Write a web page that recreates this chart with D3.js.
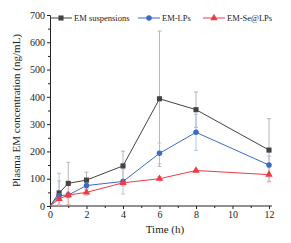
<!DOCTYPE html>
<html lang='en'>
<head>
<meta charset='UTF-8'>
<title>Plasma EM concentration</title>
<style>
  body { margin: 0; background: #fff; }
  text { font-family: 'Liberation Serif', 'Times New Roman', serif; fill: #222; }
</style>
</head>
<body>
<div id="chart-area"></div>
<script src='https://d3js.org/d3.v7.min.js'></script>
<script>
    const times = [0, 0.5, 1, 2, 4, 6, 8, 12];
    const suspMean = [0, 48, 83, 95, 147, 393, 353, 205];
    const suspErr  = [0, 44, 77, 29, 54, 248, 65, 115];
    const lpsMean  = [0, 38, 40, 75, 90, 193, 270, 150];
    const lpsErr   = [0, 82, 10, 12, 46, 38, 66, 33];
    const seMean   = [0, 26, 40, 50, 85, 100, 130, 115];
    const seErr    = [0, 20, 35, 10, 12, 8, 6, 27];
    const seriesNames = ['EM suspensions', 'EM-LPs', 'EM-Se@LPs'];
    const xTicks = [0, 2, 4, 6, 8, 10, 12];
    const yTicks = [0, 100, 200, 300, 400, 500, 600, 700];

    const outerWidth = 291, outerHeight = 243;
    const margin = {top: 15, right: 19, bottom: 37, left: 50};
    const width = outerWidth - margin.left - margin.right;
    const height = outerHeight - margin.top - margin.bottom;

    const series = [
        {name: seriesNames[0], mean: suspMean, err: suspErr, color: '#434343', errColor: '#b0b0b0', shape: d3.symbolSquare, size: 26},
        {name: seriesNames[1], mean: lpsMean, err: lpsErr, color: '#3b6cc3', errColor: '#a9c0e8', shape: d3.symbolCircle, size: 24},
        {name: seriesNames[2], mean: seMean, err: seErr, color: '#ee3b45', errColor: '#f6b0b4', shape: d3.symbolTriangle, size: 24}
    ];

    const svg = d3.select('#chart-area').append('svg')
        .attr('width', outerWidth)
        .attr('height', outerHeight)
        .append('g')
        .attr('transform', `translate(${margin.left}, ${margin.top})`);

    const xScale = d3.scaleLinear().domain([0, 12]).range([0, 219]);
    const yScale = d3.scaleLinear().domain([0, 700]).range([height, 0]);

    // axes
    const gx = svg.append('g').attr('transform', `translate(0, ${height})`)
        .call(d3.axisBottom(xScale).tickValues(xTicks).tickSize(3).tickPadding(2).tickFormat(d3.format('d')));
    gx.append('g').call(d3.axisBottom(xScale).tickValues([1, 3, 5, 7, 9, 11]).tickSize(2).tickFormat(''));
    gx.select('.domain').attr('d', `M0,0H${width}`);

    const gy = svg.append('g')
        .call(d3.axisLeft(yScale).tickValues(yTicks).tickSize(3).tickPadding(2));
    gy.append('g').call(d3.axisLeft(yScale).tickValues(d3.range(50, 700, 100)).tickSize(2).tickFormat(''));

    svg.selectAll('.domain').attr('stroke', '#222');
    svg.selectAll('.tick line').attr('stroke', '#222');
    svg.selectAll('.tick text').style('font-size', '10px').attr('fill', '#222');
    svg.selectAll('.domain').filter(function () { return this.parentNode.parentNode !== svg.node(); }).remove();

    svg.append('text')
        .attr('x', xScale(6.3))
        .attr('y', height + 27)
        .attr('text-anchor', 'middle')
        .style('font-size', '11px')
        .text('Time (h)');

    svg.append('text')
        .attr('transform', 'rotate(-90)')
        .attr('x', -height / 2)
        .attr('y', -30)
        .attr('text-anchor', 'middle')
        .style('font-size', '11px')
        .text('Plasma EM concentration (ng/mL)');

    const line = d3.line().x(d => xScale(d[0])).y(d => yScale(d[1]));

    series.forEach(s => {
        const pts = times.map((t, i) => [t, s.mean[i], s.err[i]]);
        const eb = svg.append('g').attr('stroke', s.errColor).attr('stroke-width', 0.9);
        pts.filter(p => p[2] > 0).forEach(p => {
            const x = xScale(p[0]);
            const lo = yScale(Math.max(0, p[1] - p[2]));
            const hi = yScale(p[1] + p[2]);
            eb.append('line').attr('x1', x).attr('x2', x).attr('y1', lo).attr('y2', hi);
            eb.append('line').attr('x1', x - 2).attr('x2', x + 2).attr('y1', hi).attr('y2', hi);
            if (p[1] - p[2] > 0) eb.append('line').attr('x1', x - 2).attr('x2', x + 2).attr('y1', lo).attr('y2', lo);
        });
    });

    series.forEach(s => {
        const pts = times.map((t, i) => [t, s.mean[i]]);
        svg.append('path').datum(pts)
            .attr('fill', 'none')
            .attr('stroke', s.color)
            .attr('stroke-width', 1)
            .attr('d', line);
        svg.append('g').selectAll('path')
            .data(pts.slice(1))
            .join('path')
            .attr('transform', d => `translate(${xScale(d[0])}, ${yScale(d[1])})`)
            .attr('d', d3.symbol().type(s.shape).size(s.size))
            .attr('fill', s.color);
    });

    // legend
    const legendX = [0, 88, 153];
    const legend = svg.append('g').attr('transform', `translate(0, ${yScale(700) + 3})`);
    series.forEach((s, i) => {
        const g = legend.append('g').attr('transform', `translate(${legendX[i]}, 0)`);
        g.append('line').attr('x1', 0).attr('x2', 22).attr('stroke', s.color).attr('stroke-width', 1);
        g.append('path').attr('transform', 'translate(11, 0)')
            .attr('d', d3.symbol().type(s.shape).size(s.size)).attr('fill', s.color);
        g.append('text').attr('x', 24).attr('y', 3).style('font-size', '8.5px').text(s.name);
    });
</script>
</body>
</html>
